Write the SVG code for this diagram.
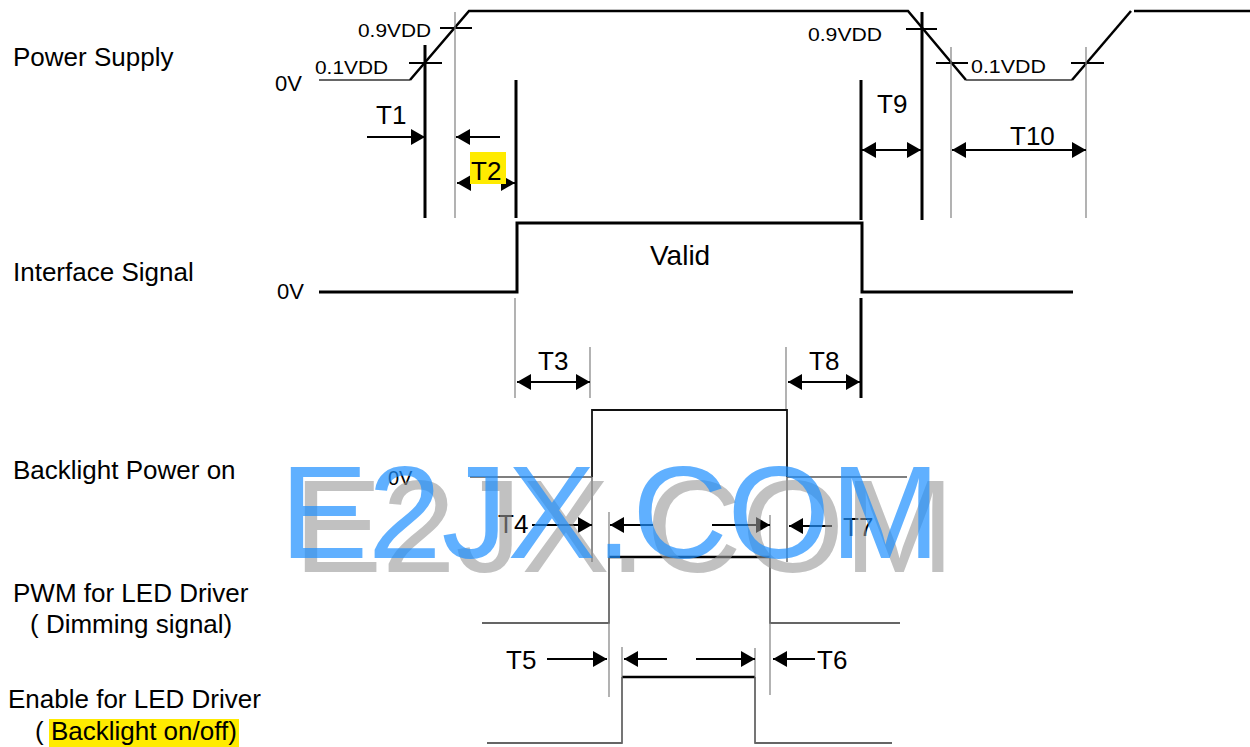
<svg xmlns="http://www.w3.org/2000/svg" width="1250" height="747" viewBox="0 0 1250 747">
<style>
text{font-family:"Liberation Sans",Arial,sans-serif;fill:#000}
.lbl{font-size:26px}
.sm{font-size:19px}
.sig{fill:none;stroke:#000;stroke-width:2.5}
.thin{fill:none;stroke:#333;stroke-width:1.5}
.ref{fill:none;stroke:#808080;stroke-width:1.2}
.thick{fill:none;stroke:#000;stroke-width:3}
.tick{fill:none;stroke:#000;stroke-width:2}
.arr{fill:none;stroke:#000;stroke-width:2}
.hl{fill:#ffeb00}
</style>
<defs>
<marker id="ah" markerUnits="userSpaceOnUse" markerWidth="14" markerHeight="16" refX="14" refY="8" orient="auto-start-reverse" viewBox="0 0 14 16">
<path d="M0,0 L14,8 L0,16 z" fill="#000"/>
</marker>
</defs>
<rect width="1250" height="747" fill="#fff"/>

<g id="labels">
<text class="lbl" x="13" y="66">Power Supply</text>
<text class="lbl" x="13" y="281">Interface Signal</text>
<text class="lbl" x="13" y="479">Backlight Power on</text>
<text class="lbl" x="13" y="602">PWM for LED Driver</text>
<text class="lbl" x="30" y="633">( Dimming signal)</text>
<text class="lbl" x="8" y="708">Enable for LED Driver</text>
<rect class="hl" x="49" y="719" width="190" height="28"/>
<text class="lbl" x="35" y="740">( Backlight on/off)</text>
</g>

<g id="power-supply">
<path class="thin" d="M319,80 H410"/>
<path class="sig" d="M410,80 L469,11 L908,11 L966,80"/>
<path class="thin" d="M966,80 H1072"/>
<path class="sig" d="M1072,80 L1131,11"/>
<path class="sig" d="M1134,11 H1250"/>
<path class="tick" d="M409,63 H442 M440,28 H472 M906,29 H937 M936,63 H968 M1071,63 H1104"/>
<path class="thick" d="M425,45 V218 M516,80 V218 M861,80 V220 M922,12 V220"/>
<path class="ref" d="M455,12 V218 M951,47 V218 M1086,47 V218"/>
<text x="275" y="91" style="font-size:22px">0V</text>
<text class="sm" x="358" y="37" textLength="73" lengthAdjust="spacingAndGlyphs">0.9VDD</text>
<text class="sm" x="315" y="74" textLength="73" lengthAdjust="spacingAndGlyphs">0.1VDD</text>
<text class="sm" x="808" y="41" textLength="74" lengthAdjust="spacingAndGlyphs">0.9VDD</text>
<text class="sm" x="971" y="73" textLength="75" lengthAdjust="spacingAndGlyphs">0.1VDD</text>
</g>

<g id="interface-signal">
<path class="thick" d="M319,292 H517 V223 H862 V292 H1073"/>
<text x="277" y="299" style="font-size:22px">0V</text>
<text x="650" y="265" style="font-size:28px">Valid</text>
<path class="ref" d="M515,298 V398 M590,347 V398 M786,347 V410"/>
<path class="thick" d="M861,298 V398"/>
</g>

<g id="backlight-power">
<path fill="none" stroke="#111" stroke-width="1.8" d="M592,477 V410 H787 V477"/>
<path fill="none" stroke="#555" stroke-width="1.3" d="M470,477 H592 M787,477 H907 M592,477 V562 M787,477 V562"/>
<text x="388" y="485" style="font-size:20px">0V</text>
</g>

<g id="pwm">
<path class="thin" d="M482,623 H609 V557 M770,557 V623 H900"/>
<path class="sig" d="M609,557 H770"/>
<path class="ref" d="M609,512 V697 M770,515 V695"/>
</g>

<g id="enable">
<path class="thin" d="M487,743 H622 V677 M755,677 V743 H892"/>
<path class="sig" d="M622,677 H755"/>
<path class="ref" d="M622,647 V743 M755,648 V743"/>
</g>

<g id="connectors">
<path class="arr" d="M367,137 H425" marker-end="url(#ah)"/>
<path class="arr" d="M500,137 H456" marker-end="url(#ah)"/>
<path class="arr" d="M457,183 H515" marker-start="url(#ah)" marker-end="url(#ah)"/>
<path class="arr" d="M862,150 H921" marker-start="url(#ah)" marker-end="url(#ah)"/>
<path class="arr" d="M952,150 H1086" marker-start="url(#ah)" marker-end="url(#ah)"/>
<path class="arr" d="M517,382 H590" marker-start="url(#ah)" marker-end="url(#ah)"/>
<path class="arr" d="M788,382 H860" marker-start="url(#ah)" marker-end="url(#ah)"/>
<path class="arr" d="M532,525 H592" marker-end="url(#ah)"/>
<path class="arr" d="M653,525 H610" marker-end="url(#ah)"/>
<path class="arr" d="M712,525 H770" marker-end="url(#ah)"/>
<path class="arr" d="M832,526 H789" marker-end="url(#ah)"/>
<path class="arr" d="M547,659 H607" marker-end="url(#ah)"/>
<path class="arr" d="M667,659 H624" marker-end="url(#ah)"/>
<path class="arr" d="M696,659 H755" marker-end="url(#ah)"/>
<path class="arr" d="M815,659 H773" marker-end="url(#ah)"/>
<text class="lbl" x="376" y="124">T1</text>
<rect class="hl" x="470" y="152" width="36" height="32"/>
<text class="lbl" x="471" y="180">T2</text>
<text class="lbl" x="877" y="113">T9</text>
<text class="lbl" x="1010" y="145">T10</text>
<text class="lbl" x="538" y="370">T3</text>
<text class="lbl" x="809" y="370">T8</text>
<text class="lbl" x="498" y="533">T4</text>
<text class="lbl" x="843" y="536">T7</text>
<text class="lbl" x="506" y="669">T5</text>
<text class="lbl" x="817" y="669">T6</text>
</g>

<g id="watermark">
<text x="294" y="572" style="font-size:132px;fill:#999;opacity:0.6">E2JX.COM</text>
<text x="280" y="558" style="font-size:132px;fill:#1e90ff;opacity:0.7">E2JX.COM</text>
</g>
</svg>
